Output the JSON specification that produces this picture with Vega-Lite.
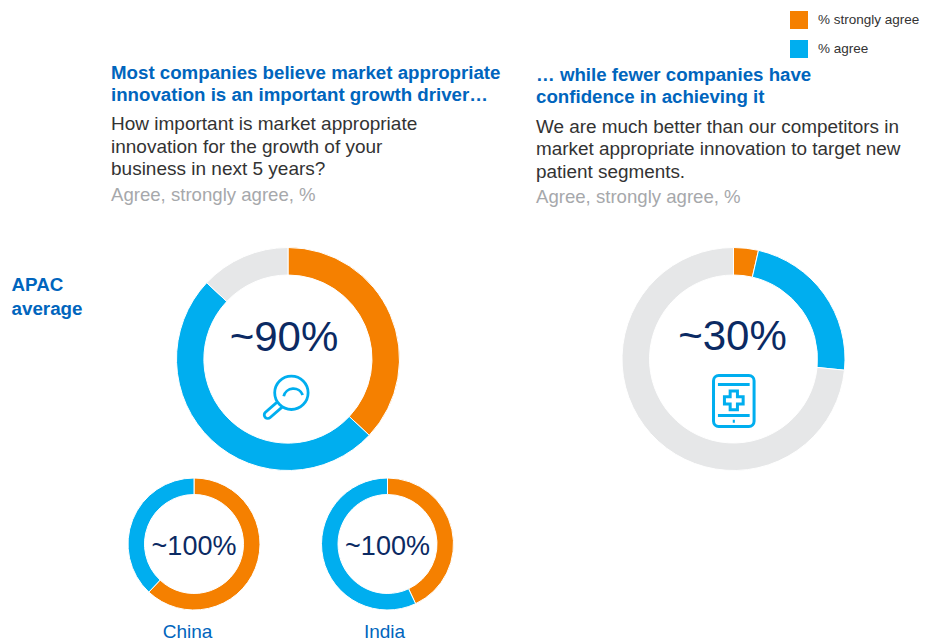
{
"$schema":"https://vega.github.io/schema/vega-lite/v6.json",
"background":"white",
"padding":{"left":11,"top":11,"right":0,"bottom":0},
"config":{"view":{"stroke":null},"font":"Liberation Sans","concat":{"spacing":0}},
"datasets":{
"segments":[
{"chart":"APAC market","segment":"% strongly agree","value":37,"rank":1},
{"chart":"APAC market","segment":"% agree","value":50,"rank":2},
{"chart":"APAC market","segment":"Other","value":13,"rank":3},
{"chart":"APAC confidence","segment":"% strongly agree","value":3.6,"rank":1},
{"chart":"APAC confidence","segment":"% agree","value":23,"rank":2},
{"chart":"APAC confidence","segment":"Other","value":73.4,"rank":3},
{"chart":"China","segment":"% strongly agree","value":62,"rank":1},
{"chart":"China","segment":"% agree","value":38,"rank":2},
{"chart":"India","segment":"% strongly agree","value":43,"rank":1},
{"chart":"India","segment":"% agree","value":57,"rank":2}
],
"centres":[
{"chart":"APAC market","label":"~90%"},
{"chart":"APAC confidence","label":"~30%"},
{"chart":"China","label":"~100%"},
{"chart":"India","label":"~100%"}
]
},
"resolve":{"scale":{"color":"independent"}},
"vconcat":[
{"width":779,"height":53,
 "data":{"name":"segments"},
 "transform":[{"filter":"datum.segment !== 'Other' && datum.chart === 'China'"}],
 "mark":{"type":"point","filled":true,"size":0},
 "encoding":{"color":{"field":"segment","type":"nominal",
   "scale":{"domain":["% strongly agree","% agree","Other"],"range":["#F58000","#00AEEF","#E6E7E8"]},
   "legend":{"title":null,"orient":"right","offset":0,"padding":0,"values":["% strongly agree","% agree"],"symbolType":"square","symbolSize":324,"symbolOpacity":1,"symbolStrokeWidth":0,"labelFontSize":13.5,"labelColor":"#333333","labelFont":"Liberation Sans","rowPadding":11,"labelOffset":10,"labelLimit":200}}}
},
{"resolve":{"scale":{"color":"independent"}},"spacing":35,"hconcat":[
{"resolve":{"scale":{"color":"independent"}},"spacing":28,"hconcat":[
{"width":1,"height":74,
 "data":{"values":[{"label":"APAC\naverage"}]},
 "mark":{"type":"text","align":"left","baseline":"middle","lineBreak":"\n","lineHeight":24,"fontSize":18.8,"fontWeight":"bold","color":"#0065BD"},
 "encoding":{"text":{"field":"label"}}
},
{"resolve":{"scale":{"color":"independent"}},"spacing":3,
 "title":{"text":["Most companies believe market appropriate","innovation is an important growth driver…"],"subtitle":["How important is market appropriate","innovation for the growth of your","business in next 5 years?"],"anchor":"start","fontSize":18.7,"fontWeight":"bold","color":"#0065BD","lineHeight":22,"subtitleFontSize":19,"subtitleColor":"#333333","subtitleFontWeight":"normal","subtitleLineHeight":22.5,"subtitlePadding":10.5,"offset":7},
 "vconcat":[
 {"width":320,"height":222,
  "title":{"text":"Agree, strongly agree, %","anchor":"start","fontSize":18.6,"fontWeight":"normal","color":"#A6A8AB","dx":-17,"offset":40.5},
  "layer":[
  {"data":{"name":"segments"},"transform":[{"filter":"datum.chart === 'APAC market'"}],
   "mark":{"type":"arc","radius":111.5,"radius2":84,"stroke":"white","strokeWidth":1},
   "encoding":{"theta":{"field":"value","type":"quantitative"},"order":{"field":"rank"},
    "color":{"field":"segment","type":"nominal","scale":{"domain":["% strongly agree","% agree","Other"],"range":["#F58000","#00AEEF","#E6E7E8"]},"legend":null}}},
  {"data":{"name":"centres"},"transform":[{"filter":"datum.chart === 'APAC market'"}],
   "mark":{"type":"text","fontSize":42,"dx":-4,"dy":-21,"color":"#0B2A63","baseline":"middle"},
   "encoding":{"text":{"field":"label"}}},
  {"data":{"name":"centres"},"transform":[{"filter":"datum.chart === 'APAC market'"}],
   "mark":{"type":"point","filled":false,"stroke":"#00AEEF","strokeWidth":2.8,"opacity":1,"size":2500,"xOffset":-1.8,"yOffset":40,
    "shape":"M0.876,-0.248 A0.668,0.668 0 1 1 -0.46,-0.248 A0.668,0.668 0 1 1 0.876,-0.248 Z M-0.1,-0.11 A0.4,0.4 0 0 1 0.66,-0.16 M-0.364,0.124 L-0.84,0.54 A0.1415,0.1415 0 0 0 -0.64,0.74 L-0.164,0.324"},
   "encoding":{}}
  ]},
 {"resolve":{"scale":{"color":"independent"}},"spacing":57.5,"hconcat":[
  {"width":132,"height":132,
   "title":{"text":"China","orient":"bottom","anchor":"middle","fontSize":19,"fontWeight":"normal","color":"#0065BD","offset":10.5,"dx":-6.5},
   "layer":[
   {"data":{"name":"segments"},"transform":[{"filter":"datum.chart === 'China'"}],
    "mark":{"type":"arc","radius":66,"radius2":49.5,"stroke":"white","strokeWidth":1},
    "encoding":{"theta":{"field":"value","type":"quantitative"},"order":{"field":"rank"},
     "color":{"field":"segment","type":"nominal","scale":{"domain":["% strongly agree","% agree","Other"],"range":["#F58000","#00AEEF","#E6E7E8"]},"legend":null}}},
   {"data":{"name":"centres"},"transform":[{"filter":"datum.chart === 'China'"}],
    "mark":{"type":"text","fontSize":27,"dy":3,"color":"#0B2A63","baseline":"middle"},
    "encoding":{"text":{"field":"label"}}}
   ]},
  {"width":132,"height":132,
   "title":{"text":"India","orient":"bottom","anchor":"middle","fontSize":19,"fontWeight":"normal","color":"#0065BD","offset":10.5,"dx":-3},
   "layer":[
   {"data":{"name":"segments"},"transform":[{"filter":"datum.chart === 'India'"}],
    "mark":{"type":"arc","radius":66,"radius2":49.5,"stroke":"white","strokeWidth":1},
    "encoding":{"theta":{"field":"value","type":"quantitative"},"order":{"field":"rank"},
     "color":{"field":"segment","type":"nominal","scale":{"domain":["% strongly agree","% agree","Other"],"range":["#F58000","#00AEEF","#E6E7E8"]},"legend":null}}},
   {"data":{"name":"centres"},"transform":[{"filter":"datum.chart === 'India'"}],
    "mark":{"type":"text","fontSize":27,"dy":3,"color":"#0B2A63","baseline":"middle"},
    "encoding":{"text":{"field":"label"}}}
   ]}
 ]}
 ]
}
]},
{"resolve":{"scale":{"color":"independent"}},"spacing":10,
 "title":{"text":["… while fewer companies have","confidence in achieving it"],"subtitle":["We are much better than our competitors in","market appropriate innovation to target new","patient segments."],"anchor":"start","fontSize":18.7,"fontWeight":"bold","color":"#0065BD","lineHeight":22,"subtitleFontSize":18.9,"subtitleColor":"#333333","subtitleFontWeight":"normal","subtitleLineHeight":22.5,"subtitlePadding":10.5,"offset":7},
 "vconcat":[
 {"width":223,"height":222,
  "title":{"text":"Agree, strongly agree, %","anchor":"start","fontSize":18.6,"fontWeight":"normal","color":"#A6A8AB","dx":-84,"offset":38.5},
  "layer":[
  {"data":{"name":"segments"},"transform":[{"filter":"datum.chart === 'APAC confidence'"}],
   "mark":{"type":"arc","radius":111.5,"radius2":84,"stroke":"white","strokeWidth":1},
   "encoding":{"theta":{"field":"value","type":"quantitative"},"order":{"field":"rank"},
    "color":{"field":"segment","type":"nominal","scale":{"domain":["% strongly agree","% agree","Other"],"range":["#F58000","#00AEEF","#E6E7E8"]},"legend":null}}},
  {"data":{"name":"centres"},"transform":[{"filter":"datum.chart === 'APAC confidence'"}],
   "mark":{"type":"text","fontSize":42,"dx":-1,"dy":-22,"color":"#0B2A63","baseline":"middle"},
   "encoding":{"text":{"field":"label"}}},
  {"data":{"name":"centres"},"transform":[{"filter":"datum.chart === 'APAC confidence'"}],
   "mark":{"type":"point","filled":false,"stroke":"#00AEEF","strokeWidth":3,"opacity":1,"size":2704,"xOffset":0.3,"yOffset":42,
    "shape":"M-0.58,-0.98 H0.58 A0.2,0.2 0 0 1 0.78,-0.78 V0.78 A0.2,0.2 0 0 1 0.58,0.98 H-0.58 A0.2,0.2 0 0 1 -0.78,0.78 V-0.78 A0.2,0.2 0 0 1 -0.58,-0.98 Z M-0.61,-0.635 H0.61 M-0.61,0.56 H0.61 M-0.04,0.78 H0.04 M-0.14,-0.38 H0.14 V-0.16 H0.36 V0.12 H0.14 V0.34 H-0.14 V0.12 H-0.36 V-0.16 H-0.14 Z"},
   "encoding":{}}
  ]}
 ]
}
]}
]
}
